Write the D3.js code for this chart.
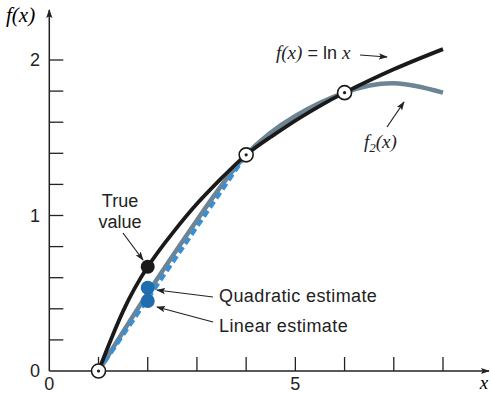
<!DOCTYPE html>
<html>
<head>
<meta charset="utf-8">
<script src="https://cdn.jsdelivr.net/npm/d3@7"></script>
<style>
  body { margin: 0; background: #fff; }
  svg { display: block; }
  .sans { font-family: "Liberation Sans", Arial, sans-serif; }
  .serif { font-family: "Liberation Serif", "DejaVu Serif", serif; font-style: italic; }
</style>
</head>
<body>
<div class="container"></div>
<script>
// values
var trueX = [1, 1.5, 2, 2.5, 3, 3.5, 4, 4.5, 5, 5.5, 6, 7, 8];
var trueY = [0, 0.385, 0.67, 0.885, 1.075, 1.24, 1.39, 1.505, 1.61, 1.705, 1.79, 1.94, 2.07];

var quadX = [1, 2, 3, 4, 5, 6, 7, 8];
var quadY = [0, 0.5, 0.97, 1.39, 1.64, 1.79, 1.85, 1.79];

var linX = [1, 4];
var linY = [0, 1.39];

var nodeX = [1, 4, 6];
var nodeY = [0, 1.39, 1.79];

var estLabels = ["True value", "Quadratic estimate", "Linear estimate"];
var estX = [2, 2, 2];
var estY = [0.67, 0.535, 0.45];

var xTicks = [1, 2, 3, 4, 5, 6, 7, 8];
var yTicks = [0.2, 0.4, 0.6, 0.8, 1, 1.2, 1.4, 1.6, 1.8, 2];

var width = 491, height = 393;
var svg = d3.select("body").select(".container")
    .append("svg")
    .attr("width", width)
    .attr("height", height);

var x = d3.scaleLinear().domain([0, 8]).range([49.3, 443]);
var y = d3.scaleLinear().domain([0, 2]).range([371, 60]);

var defs = svg.append("defs");
defs.append("marker")
    .attr("id", "ah")
    .attr("viewBox", "0 0 10 10")
    .attr("refX", 9).attr("refY", 5)
    .attr("markerWidth", 9).attr("markerHeight", 9)
    .attr("markerUnits", "userSpaceOnUse")
    .attr("orient", "auto")
    .append("path")
    .attr("d", "M0,1.5 L10,5 L0,8.5 L2,5 Z")
    .attr("fill", "#222");

// axes
svg.append("line")
    .attr("x1", x(0)).attr("y1", y(0))
    .attr("x2", x(0)).attr("y2", 10)
    .attr("stroke", "#222").attr("stroke-width", 1.5)
    .attr("marker-end", "url(#ah)");
svg.append("line")
    .attr("x1", x(0)).attr("y1", y(0))
    .attr("x2", 489).attr("y2", y(0))
    .attr("stroke", "#222").attr("stroke-width", 1.5)
    .attr("marker-end", "url(#ah)");

svg.selectAll(".xt")
    .data(xTicks)
    .enter()
    .append("line")
    .attr("x1", function(d) { return x(d); })
    .attr("x2", function(d) { return x(d); })
    .attr("y1", y(0))
    .attr("y2", y(0) - 14)
    .attr("stroke", "#222").attr("stroke-width", 1.3);

svg.selectAll(".yt")
    .data(yTicks)
    .enter()
    .append("line")
    .attr("y1", function(d) { return y(d); })
    .attr("y2", function(d) { return y(d); })
    .attr("x1", x(0))
    .attr("x2", x(0) + 14)
    .attr("stroke", "#222").attr("stroke-width", 1.3);

// tick labels
[[0, "0"], [1, "1"], [2, "2"]].forEach(function(t) {
    svg.append("text").attr("class", "sans")
        .attr("x", 35).attr("y", y(t[0]) + 6)
        .attr("text-anchor", "middle")
        .attr("font-size", 18)
        .attr("fill", "#222")
        .text(t[1]);
});
[[0, "0"], [5, "5"]].forEach(function(t) {
    svg.append("text").attr("class", "sans")
        .attr("x", x(t[0])).attr("y", 390)
        .attr("text-anchor", "middle")
        .attr("font-size", 18)
        .attr("fill", "#222")
        .text(t[1]);
});
svg.append("text").attr("class", "serif")
    .attr("x", 484).attr("y", 389)
    .attr("text-anchor", "middle")
    .attr("font-size", 19)
    .text("x");
svg.append("text").attr("class", "serif")
    .attr("x", 6).attr("y", 22)
    .attr("font-size", 21)
    .text("f(x)");

// curves
var line = d3.line()
    .x(function(d) { return x(d[0]); })
    .y(function(d) { return y(d[1]); })
    .curve(d3.curveNatural);

svg.append("path")
    .datum(d3.zip(quadX, quadY))
    .attr("fill", "none")
    .attr("stroke", "#6d8494")
    .attr("stroke-width", 4.5)
    .attr("d", line);

svg.append("path")
    .datum(d3.zip(linX, linY))
    .attr("fill", "none")
    .attr("stroke", "#3a8ed4")
    .attr("stroke-width", 4)
    .attr("stroke-dasharray", "7,4")
    .attr("d", line);

svg.append("path")
    .datum(d3.zip(trueX, trueY))
    .attr("fill", "none")
    .attr("stroke", "#1a1a1a")
    .attr("stroke-width", 3.8)
    .attr("d", line);

// estimate dots
var dotColor = ["#1a1a1a", "#1f6cae", "#1f6cae"];
svg.selectAll(".est")
    .data(d3.range(estX.length))
    .enter()
    .append("circle")
    .attr("cx", function(i) { return x(estX[i]); })
    .attr("cy", function(i) { return y(estY[i]); })
    .attr("r", 7)
    .attr("fill", function(i) { return dotColor[i]; });

// open nodes
svg.selectAll(".node")
    .data(d3.zip(nodeX, nodeY))
    .enter()
    .append("circle")
    .attr("cx", function(d) { return x(d[0]); })
    .attr("cy", function(d) { return y(d[1]); })
    .attr("r", 7)
    .attr("fill", "#fff")
    .attr("stroke", "#1a1a1a")
    .attr("stroke-width", 1.6);
svg.selectAll(".nodec")
    .data(d3.zip(nodeX, nodeY))
    .enter()
    .append("circle")
    .attr("cx", function(d) { return x(d[0]); })
    .attr("cy", function(d) { return y(d[1]); })
    .attr("r", 1.6)
    .attr("fill", "#1a1a1a");

// annotations
function arrow(x1, y1, x2, y2) {
    svg.append("line")
        .attr("x1", x1).attr("y1", y1)
        .attr("x2", x2).attr("y2", y2)
        .attr("stroke", "#222").attr("stroke-width", 1.2)
        .attr("marker-end", "url(#ah)");
}

var tv = svg.append("text").attr("class", "sans")
    .attr("text-anchor", "middle")
    .attr("font-size", 18)
    .attr("fill", "#222");
tv.append("tspan").attr("x", 120).attr("y", 207).text(estLabels[0].split(" ")[0]);
tv.append("tspan").attr("x", 120).attr("y", 228).text(estLabels[0].split(" ")[1]);
arrow(123, 233, 143, 260);

svg.append("text").attr("class", "sans")
    .attr("x", 219).attr("y", 302)
    .attr("font-size", 18)
    .attr("letter-spacing", 0.4)
    .attr("fill", "#222")
    .text(estLabels[1]);
arrow(213, 297, 157, 290);

svg.append("text").attr("class", "sans")
    .attr("x", 219).attr("y", 332)
    .attr("font-size", 18)
    .attr("letter-spacing", 0.4)
    .attr("fill", "#222")
    .text(estLabels[2]);
arrow(213, 322, 157, 307);

var fl = svg.append("text")
    .attr("x", 276).attr("y", 59)
    .attr("font-size", 18)
    .attr("fill", "#222");
fl.append("tspan").attr("class", "serif").attr("font-size", 19).text("f(x)");
fl.append("tspan").attr("class", "sans").text(" = ln ");
fl.append("tspan").attr("class", "serif").attr("font-size", 19).text("x");
arrow(360, 55, 387, 57);

var f2 = svg.append("text")
    .attr("x", 364).attr("y", 148)
    .attr("font-size", 19)
    .attr("fill", "#222");
f2.append("tspan").attr("class", "serif").text("f");
f2.append("tspan").attr("class", "serif").attr("font-size", 13).attr("dy", 4).text("2");
f2.append("tspan").attr("class", "serif").attr("dy", -4).text("(x)");
arrow(387, 127, 404, 102);
</script>
</body>
</html>
